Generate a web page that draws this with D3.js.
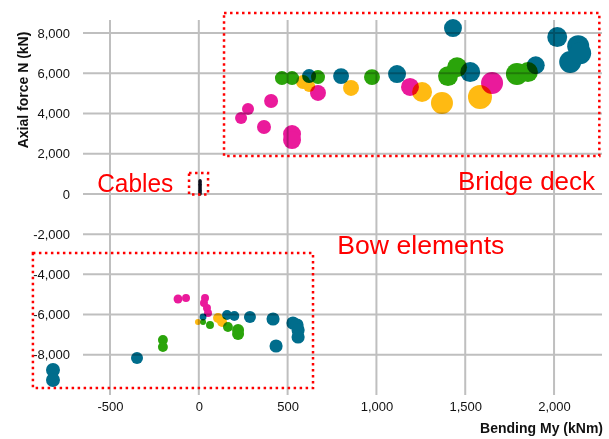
<!DOCTYPE html>
<meta charset="utf-8">
<style>
    body { margin: 0; background: #fff; }
    svg { display: block; font-family: "Liberation Sans", Arial, sans-serif; }
    .tick text { font-size: 13px; fill: #111; font-family: "Liberation Sans", Arial, sans-serif; }
    .grid line { stroke: #bfbfbf; stroke-width: 2; }
    .title { font-size: 14px; font-weight: bold; fill: #111; }
    .note { fill: #ff0000; font-size: 26px; }
    .box { fill: none; stroke: #ff0000; stroke-width: 2.5; stroke-dasharray: 2.5,3.5; }
    .series { mix-blend-mode: multiply; }
</style>
<svg width="609" height="439"></svg>
<script src="https://d3js.org/d3.v7.min.js"></script>
<script>
    var xTicks = [-500, 0, 500, 1000, 1500, 2000];
    var yTicks = [-8000, -6000, -4000, -2000, 0, 2000, 4000, 6000, 8000];

    // each point: [bending My (kNm), axial force N (kN), size]
    var teal = [
        [621, 5860, 34], [801, 5860, 44], [1116, 5960, 56], [1431, 8250, 56],
        [1528, 6060, 69], [1897, 6400, 56], [2018, 7800, 69], [2091, 6560, 84],
        [2136, 7350, 84], [2147, 7000, 84],
        [-821, -8757, 34], [-821, -9254, 34], [-348, -8160, 25], [24, -6121, 8],
        [159, -6022, 17], [200, -6071, 17], [288, -6121, 25], [418, -6220, 30],
        [435, -7563, 30], [530, -6419, 30], [553, -6519, 30], [559, -6768, 30],
        [559, -7116, 30]
    ];
    var green = [
        [468, 5760, 34], [525, 5760, 34], [671, 5810, 34], [975, 5810, 44],
        [1403, 5860, 69], [1454, 6300, 69], [1791, 5960, 84], [1853, 6060, 69],
        [-202, -7265, 17], [-202, -7613, 17], [24, -6370, 6], [63, -6519, 11],
        [164, -6619, 17], [221, -6768, 25], [221, -6966, 25]
    ];
    var magenta = [
        [238, 3775, 25], [277, 4220, 25], [407, 4620, 34], [367, 3330, 34],
        [525, 2980, 56], [525, 2680, 56], [671, 5020, 44], [1189, 5320, 56],
        [1651, 5520, 84],
        [-117, -5226, 14], [-72, -5176, 11], [35, -5176, 11], [29, -5425, 11],
        [46, -5674, 11], [52, -5922, 11]
    ];
    var yellow = [
        [587, 5570, 34], [621, 5370, 25], [857, 5270, 44], [1257, 5070, 69],
        [1369, 4520, 84], [1583, 4820, 100],
        [-5, -6370, 6], [108, -6171, 17], [131, -6370, 17]
    ];
    var cables = [
        [7, 0, 1], [7, 60, 1], [7, 120, 1], [7, 180, 1], [7, 240, 1], [7, 300, 1],
        [7, 360, 1], [7, 420, 1], [7, 480, 1], [7, 540, 1], [7, 600, 1], [7, 660, 1]
    ];

    var seriesList = [
        {name: "teal", color: "#006d8c", data: teal},
        {name: "green", color: "#2aa40a", data: green},
        {name: "magenta", color: "#ea1a9b", data: magenta},
        {name: "yellow", color: "#ffba12", data: yellow},
        {name: "cables", color: "#101020", data: cables}
    ];

    var svg = d3.select("svg");
    var x = d3.scaleLinear().domain([-652, 2270]).range([83, 602]);
    var y = d3.scaleLinear().domain([-10000, 8650]).range([395, 20]);
    var r = d3.scaleSqrt().domain([0, 100]).range([0, 12]);
    var fmt = d3.formatLocale({decimal: ".", thousands: ",", grouping: [3], currency: ["", ""], minus: "-"}).format(",");

    // grid
    var grid = svg.append("g").attr("class", "grid");
    grid.selectAll(".v").data(xTicks).enter().append("line")
        .attr("x1", function(d) { return x(d); }).attr("x2", function(d) { return x(d); })
        .attr("y1", y.range()[1]).attr("y2", y.range()[0]);
    grid.selectAll(".h").data(yTicks).enter().append("line")
        .attr("y1", function(d) { return y(d); }).attr("y2", function(d) { return y(d); })
        .attr("x1", x.range()[0]).attr("x2", x.range()[1]);

    // axes (labels only)
    svg.append("g")
        .attr("transform", "translate(0," + y.range()[0] + ")")
        .call(d3.axisBottom(x).tickValues(xTicks).tickFormat(fmt).tickSize(0).tickPadding(7))
        .call(function(g) { g.select(".domain").remove(); });
    svg.append("g")
        .attr("transform", "translate(" + x.range()[0] + ",0)")
        .call(d3.axisLeft(y).tickValues(yTicks).tickFormat(fmt).tickSize(0).tickPadding(13))
        .call(function(g) { g.select(".domain").remove(); });

    svg.append("text").attr("class", "title")
        .attr("transform", "translate(28,90) rotate(-90)")
        .attr("text-anchor", "middle")
        .text("Axial force N (kN)");
    svg.append("text").attr("class", "title")
        .attr("x", 603).attr("y", 433)
        .attr("text-anchor", "end")
        .text("Bending My (kNm)");

    // points, one multiply layer per series
    seriesList.forEach(function(s) {
        var g = svg.append("g").attr("class", "series");
        g.selectAll("circle").data(s.data).enter().append("circle")
            .attr("cx", function(d) { return x(d[0]); })
            .attr("cy", function(d) { return y(d[1]); })
            .attr("r", function(d) { return s.name === "cables" ? 1.7 : r(d[2]); })
            .attr("fill", s.color);
    });

    // annotations
    var boxes = [
        {x0: 142, x1: 2255, y0: 8997, y1: 1885},
        {x0: -55, x1: 52, y0: 1040, y1: -28},
        {x0: -934, x1: 643, y0: -2938, y1: -9652}
    ];
    svg.selectAll(".box").data(boxes).enter().append("rect")
        .attr("class", "box")
        .attr("x", function(d) { return x(d.x0); })
        .attr("y", function(d) { return y(d.y0); })
        .attr("width", function(d) { return x(d.x1) - x(d.x0); })
        .attr("height", function(d) { return y(d.y1) - y(d.y0); });

    var notes = [
        {text: "Cables", x: -572, y: 95, w: 76},
        {text: "Bridge deck", x: 1459, y: 195, w: 137},
        {text: "Bow elements", x: 780, y: -2980, w: 167}
    ];
    svg.selectAll(".note").data(notes).enter().append("text")
        .attr("class", "note")
        .attr("x", function(d) { return x(d.x); })
        .attr("y", function(d) { return y(d.y); })
        .attr("textLength", function(d) { return d.w; })
        .attr("lengthAdjust", "spacingAndGlyphs")
        .text(function(d) { return d.text; });
</script>
